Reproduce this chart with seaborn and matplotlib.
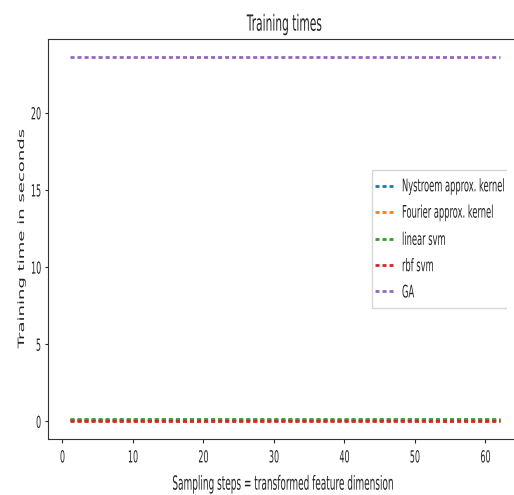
import numpy as np
import pandas as pd
import matplotlib
matplotlib.use("Agg")
import matplotlib.pyplot as plt
import seaborn as sns
from matplotlib.patheffects import AbstractPathEffect
from matplotlib.transforms import Affine2D, Bbox, TransformedBbox

sample_sizes = list(range(1, 63))
series_names = ["Nystroem approx. kernel", "Fourier approx. kernel", "linear svm", "rbf svm", "GA"]
series_times = [0.1, 0.1, 0.15, 0.03, 23.6]
colors = ["#1f77b4", "#ff7f0e", "#2ca02c", "#d62728", "#9467bd"]
x_ticks = [0, 10, 20, 30, 40, 50, 60]
y_ticks = [0, 5, 10, 15, 20]

SQ = 0.48  # text in the reference is narrow and tall


class Stretch(AbstractPathEffect):
    """Stretch text vertically in display space (tall, narrow glyphs)."""
    def __init__(self, sy=1 / SQ, anchor="center"):
        super().__init__()
        self.sy = sy
        self.anchor = anchor

    def draw_path(self, renderer, gc, tpath, affine, rgbFace=None):
        try:
            ext = tpath.transformed(affine).get_extents()
            if self.anchor == "top":
                ay = ext.y1
            elif self.anchor == "baseline":
                ay = affine.transform_point((0, 0))[1]
            else:
                ay = (ext.y0 + ext.y1) / 2
        except Exception:
            ay = 0
        new = affine + Affine2D().translate(0, -ay).scale(1, self.sy).translate(0, ay)
        renderer.draw_path(gc, tpath, new, rgbFace)


def stretch(txt, sy=1 / SQ, anchor="center"):
    txt.set_path_effects([Stretch(sy, anchor)])


sns.set_style("ticks")
plt.rcParams['font.family'] = ['DejaVu Sans']

fig = plt.figure(figsize=(5.14, 4.95), dpi=100)
ax = fig.add_axes([48/514, 1-439/495, (521-48)/514, (439-39)/495])

for name, t, c in zip(series_names, series_times, colors):
    df = pd.DataFrame({"step": sample_sizes, "time": [t] * len(sample_sizes)})
    sns.lineplot(data=df, x="step", y="time", color=c, label=name, ax=ax, linewidth=2)

for line in ax.get_lines():
    line.set_linestyle("--")
    line.set_dashes((1.45, 1.08))

ax.set_xticks(x_ticks)
ax.set_yticks(y_ticks)
ax.tick_params(axis="x", labelsize=12 * SQ, length=3.2, pad=4)
ax.tick_params(axis="y", labelsize=12 * SQ, length=2.5, pad=2.5)
for lab in ax.get_xticklabels():
    stretch(lab, anchor="top")
for lab in ax.get_yticklabels():
    stretch(lab, anchor="center")

t = ax.set_title("Training times", fontsize=16 * SQ, pad=6)
stretch(t, anchor="baseline")
xl = ax.set_xlabel("Sampling steps = transformed feature dimension",
                   fontsize=14 * 0.46, labelpad=12)
stretch(xl, sy=1 / 0.46, anchor="top")
yl = ax.set_ylabel("Training time in seconds", fontsize=13 * SQ)
ax.yaxis.set_label_coords((26-48)/473, 0.5)
stretch(yl, anchor="center")

for s in ax.spines.values():
    s.set_color("#333333")

leg_fs = 12.5 * SQ
leg = ax.legend(loc="center left", bbox_to_anchor=((375-48)/473, 0.5), borderaxespad=0,
                fontsize=leg_fs, handlelength=2.16, handletextpad=1.08, borderpad=0,
                labelspacing=2.08, frameon=True, fancybox=False)
frame = leg.get_frame()
frame.set_boxstyle("square", pad=0.36)
frame.set_mutation_aspect(4.0)
frame.set_clip_box(TransformedBbox(Bbox([[0, 0], [507/514, 1]]), fig.transFigure))
for h in leg.get_lines():
    h.set_linestyle("--")
    h.set_dashes((1.45, 1.08))
    h.set_linewidth(2)
for txt in leg.get_texts():
    stretch(txt, anchor="center")

fig.savefig("out.png", dpi=100)
